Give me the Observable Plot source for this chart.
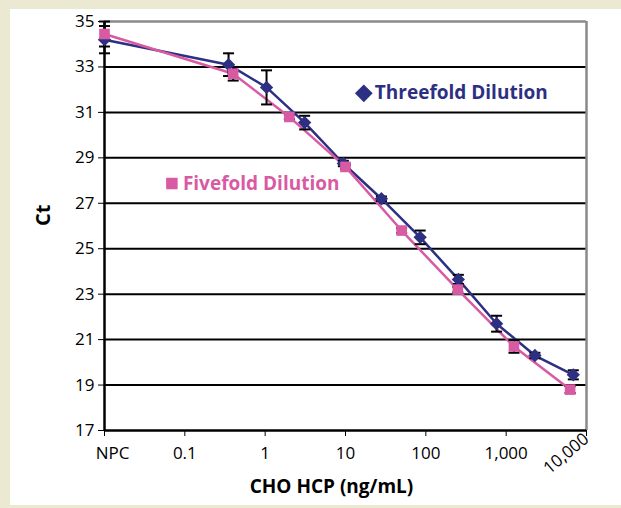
<!DOCTYPE html>
<html>
<head>
<meta charset="utf-8">
<script src="https://cdn.jsdelivr.net/npm/d3@7"></script>
<script src="https://cdn.jsdelivr.net/npm/@observablehq/plot@0.6"></script>
<style>
  html, body { margin: 0; padding: 0; }
  body { width: 621px; height: 508px; background: #ebe9d1; position: relative; overflow: hidden; }
  #chart { position: absolute; left: 10px; top: 9px; width: 611px; height: 496px; background: #fff; }
  #chart svg { display: block; }
</style>
</head>
<body>
<div id="chart"></div>
<script>
// ---- data ----
const npcPosition = 0.01; // where "NPC" sits on the log axis
const xTickValues = [0.01, 0.1, 1, 10, 100, 1000, 10000];
const xTickLabels = ["NPC", "0.1", "1", "10", "100", "1,000", "10,000"];
const yTicks = [17, 19, 21, 23, 25, 27, 29, 31, 33, 35];
const gridY = [19, 21, 23, 25, 27, 29, 31, 33];

const threeX   = [0.01, 0.35, 1.04, 3.1, 9.4, 28, 85, 254, 760, 2280, 6850];
const threeCt  = [34.2, 33.1, 32.1, 30.55, 28.75, 27.2, 25.5, 23.65, 21.7, 20.3, 19.45];
const threeErr = [0.6, 0.5, 0.75, 0.3, 0.12, 0.1, 0.3, 0.2, 0.35, 0.12, 0.2];

const fiveX   = [0.01, 0.4, 2, 10, 50, 250, 1250, 6250];
const fiveCt  = [34.45, 32.7, 30.8, 28.6, 25.8, 23.2, 20.7, 18.8];
const fiveErr = [0.55, 0.3, 0.1, 0.1, 0.1, 0.12, 0.28, 0.15];

const seriesNames = ["Threefold Dilution", "Fivefold Dilution"];
const legendX = [16.9, 0.069];
const legendY = [31.84, 27.87];

const xTitle = "CHO HCP (ng/mL)";
const yTitle = "Ct";

// ---- styles ----
const navy = "#2d2f83";
const pink = "#d85aa3";

const three = threeX.map((x, i) => ({x, ct: threeCt[i], err: threeErr[i]}));
const five = fiveX.map((x, i) => ({x, ct: fiveCt[i], err: fiveErr[i]}));

const fmt = d => xTickLabels[xTickValues.indexOf(d)];

const capSymbol = {
  draw(ctx, size) {
    const w = Math.sqrt(size / Math.PI);
    ctx.moveTo(-w, 0);
    ctx.lineTo(w, 0);
  }
};

function errorMarks(data) {
  return [
    Plot.ruleX(data, {x: "x", y1: d => d.ct - d.err, y2: d => d.ct + d.err, stroke: "black", strokeWidth: 2}),
    Plot.dot(data, {x: "x", y: d => d.ct + d.err, symbol: capSymbol, r: 5.5, stroke: "black", strokeWidth: 2, fill: "none"}),
    Plot.dot(data, {x: "x", y: d => d.ct - d.err, symbol: capSymbol, r: 5.5, stroke: "black", strokeWidth: 2, fill: "none"})
  ];
}

const chart = Plot.plot({
  width: 611,
  height: 496,
  marginLeft: 94,
  marginRight: 35,
  marginTop: 12,
  marginBottom: 75,
  x: {type: "log", domain: [0.01, 10000]},
  y: {domain: [17, 35]},
  style: {background: "white", fontFamily: "'Open Sans', sans-serif", color: "black", overflow: "visible"},
  marks: [
    Plot.ruleY(gridY, {stroke: "black", strokeWidth: 2}),
    Plot.ruleY([35], {stroke: "#8a8a8a", strokeWidth: 2.5}),
    Plot.ruleX([10000], {stroke: "#8a8a8a", strokeWidth: 2.5}),
    Plot.ruleX([npcPosition], {stroke: "black", strokeWidth: 2.5}),
    Plot.ruleY([17], {stroke: "black", strokeWidth: 2.5}),
    // axes
    Plot.axisY(yTicks, {tickSize: 6, tickPadding: 4, fontSize: 17, label: null, stroke: "black"}),
    Plot.axisX(xTickValues, {tickSize: 6, tickFormat: () => "", label: null, stroke: "black"}),
    Plot.axisX(xTickValues.slice(1, 6), {tickSize: 0, tickPadding: 16, tickFormat: fmt, fontSize: 17, label: null}),
    Plot.axisX([xTickValues[0]], {tickSize: 0, tickPadding: 16, tickFormat: fmt, fontSize: 17, label: null, dx: 8}),
    Plot.axisX([xTickValues[6]], {tickSize: 0, tickPadding: 6, tickRotate: -40, tickFormat: fmt, fontSize: 17, label: null}),
    // titles
    Plot.text([xTitle], {text: d => d, frameAnchor: "bottom", dy: 56, dx: -14, fontWeight: "bold", fontSize: 19, lineAnchor: "middle"}),
    Plot.text([yTitle], {text: d => d, frameAnchor: "left", dx: -61, rotate: -90, fontWeight: "bold", fontSize: 20}),
    // series
    Plot.line(three, {x: "x", y: "ct", stroke: navy, strokeWidth: 2.5}),
    Plot.line(five, {x: "x", y: "ct", stroke: pink, strokeWidth: 2.5}),
    ...errorMarks(three),
    ...errorMarks(five),
    Plot.dot(three, {x: "x", y: "ct", symbol: "diamond2", r: 6, fill: navy}),
    Plot.dot(five, {x: "x", y: "ct", symbol: "square", r: 6, fill: pink}),
    // legend
    Plot.dot([seriesNames[0]], {x: legendX[0], y: legendY[0], symbol: "diamond2", r: 8, fill: navy}),
    Plot.dot([seriesNames[1]], {x: legendX[1], y: legendY[1], symbol: "square", r: 6.5, fill: pink}),
    Plot.text([seriesNames[0]], {x: legendX[0], y: legendY[0], text: d => d, fill: navy, dx: 11, textAnchor: "start", fontWeight: "bold", fontSize: 19}),
    Plot.text([seriesNames[1]], {x: legendX[1], y: legendY[1], text: d => d, fill: pink, dx: 11, textAnchor: "start", fontWeight: "bold", fontSize: 19})
  ]
});

document.getElementById("chart").appendChild(chart);
</script>
</body>
</html>
